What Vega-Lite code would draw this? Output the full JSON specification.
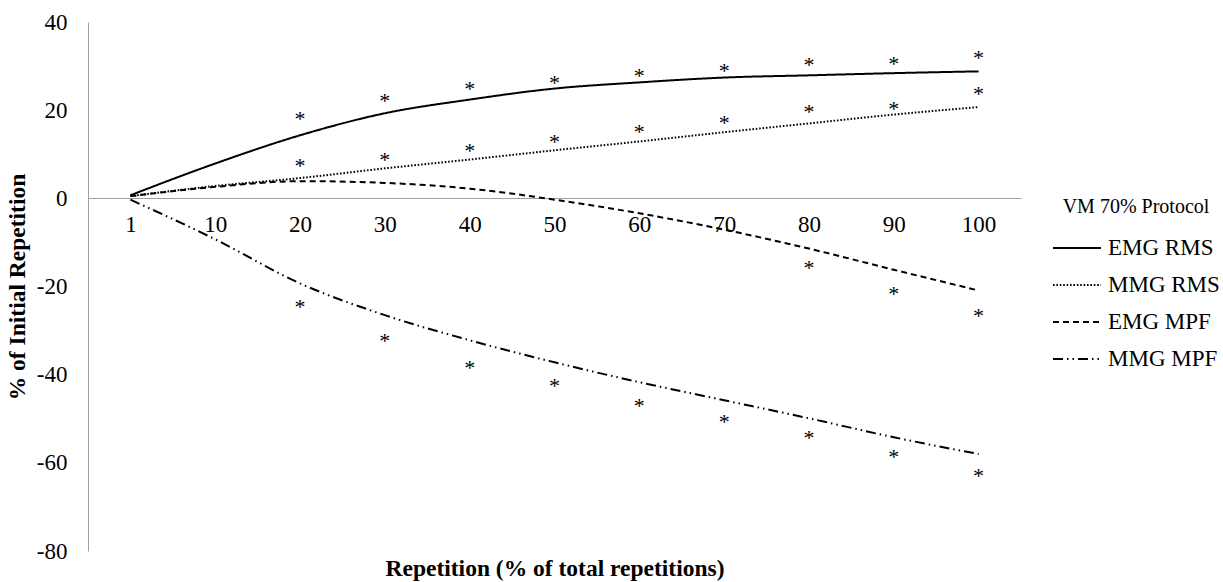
{
  "$schema": "https://vega.github.io/schema/vega-lite/v6.json",
  "width": 933,
  "height": 529,
  "autosize": {"type": "none"},
  "padding": {"left": 88, "top": 22, "right": 202, "bottom": 31},
  "background": "white",
  "config": {
    "view": {"stroke": null},
    "font": "Liberation Serif",
    "axis": {"labelFont": "Liberation Serif", "titleFont": "Liberation Serif", "labelColor": "black", "titleColor": "black"},
    "legend": {"labelFont": "Liberation Serif", "titleFont": "Liberation Serif"}
  },
  "datasets": {
    "trend": [
      {"rep": "1", "series": "EMG RMS", "value": 0.7},
      {"rep": "10", "series": "EMG RMS", "value": 7.9},
      {"rep": "20", "series": "EMG RMS", "value": 14.3},
      {"rep": "30", "series": "EMG RMS", "value": 19.3},
      {"rep": "40", "series": "EMG RMS", "value": 22.4},
      {"rep": "50", "series": "EMG RMS", "value": 24.9},
      {"rep": "60", "series": "EMG RMS", "value": 26.3},
      {"rep": "70", "series": "EMG RMS", "value": 27.4},
      {"rep": "80", "series": "EMG RMS", "value": 27.9},
      {"rep": "90", "series": "EMG RMS", "value": 28.4},
      {"rep": "100", "series": "EMG RMS", "value": 28.8},
      {"rep": "1", "series": "MMG RMS", "value": 0.5},
      {"rep": "10", "series": "MMG RMS", "value": 2.8},
      {"rep": "20", "series": "MMG RMS", "value": 4.6},
      {"rep": "30", "series": "MMG RMS", "value": 6.8},
      {"rep": "40", "series": "MMG RMS", "value": 8.8},
      {"rep": "50", "series": "MMG RMS", "value": 10.9},
      {"rep": "60", "series": "MMG RMS", "value": 12.9},
      {"rep": "70", "series": "MMG RMS", "value": 15.0},
      {"rep": "80", "series": "MMG RMS", "value": 17.0},
      {"rep": "90", "series": "MMG RMS", "value": 19.0},
      {"rep": "100", "series": "MMG RMS", "value": 20.7},
      {"rep": "1", "series": "EMG MPF", "value": 0.5},
      {"rep": "10", "series": "EMG MPF", "value": 2.6},
      {"rep": "20", "series": "EMG MPF", "value": 3.9},
      {"rep": "30", "series": "EMG MPF", "value": 3.5},
      {"rep": "40", "series": "EMG MPF", "value": 2.2},
      {"rep": "50", "series": "EMG MPF", "value": -0.3},
      {"rep": "60", "series": "EMG MPF", "value": -3.4},
      {"rep": "70", "series": "EMG MPF", "value": -7.1},
      {"rep": "80", "series": "EMG MPF", "value": -11.4},
      {"rep": "90", "series": "EMG MPF", "value": -16.2},
      {"rep": "100", "series": "EMG MPF", "value": -20.9},
      {"rep": "1", "series": "MMG MPF", "value": -0.3},
      {"rep": "10", "series": "MMG MPF", "value": -9.3},
      {"rep": "20", "series": "MMG MPF", "value": -19.3},
      {"rep": "30", "series": "MMG MPF", "value": -26.5},
      {"rep": "40", "series": "MMG MPF", "value": -32.2},
      {"rep": "50", "series": "MMG MPF", "value": -37.2},
      {"rep": "60", "series": "MMG MPF", "value": -41.7},
      {"rep": "70", "series": "MMG MPF", "value": -45.8},
      {"rep": "80", "series": "MMG MPF", "value": -49.9},
      {"rep": "90", "series": "MMG MPF", "value": -54.2},
      {"rep": "100", "series": "MMG MPF", "value": -58.0}
    ],
    "stars": [
      {"rep": "20", "series": "EMG RMS", "value": 18.8},
      {"rep": "30", "series": "EMG RMS", "value": 23.0},
      {"rep": "40", "series": "EMG RMS", "value": 25.6},
      {"rep": "50", "series": "EMG RMS", "value": 27.1},
      {"rep": "60", "series": "EMG RMS", "value": 28.6},
      {"rep": "70", "series": "EMG RMS", "value": 29.9},
      {"rep": "80", "series": "EMG RMS", "value": 31.1},
      {"rep": "90", "series": "EMG RMS", "value": 31.3},
      {"rep": "100", "series": "EMG RMS", "value": 32.8},
      {"rep": "20", "series": "MMG RMS", "value": 8.2},
      {"rep": "30", "series": "MMG RMS", "value": 9.6},
      {"rep": "40", "series": "MMG RMS", "value": 11.6},
      {"rep": "50", "series": "MMG RMS", "value": 13.7},
      {"rep": "60", "series": "MMG RMS", "value": 15.9},
      {"rep": "70", "series": "MMG RMS", "value": 18.1},
      {"rep": "80", "series": "MMG RMS", "value": 20.5},
      {"rep": "90", "series": "MMG RMS", "value": 21.1},
      {"rep": "100", "series": "MMG RMS", "value": 24.5},
      {"rep": "80", "series": "EMG MPF", "value": -14.8},
      {"rep": "90", "series": "EMG MPF", "value": -20.9},
      {"rep": "100", "series": "EMG MPF", "value": -25.8},
      {"rep": "20", "series": "MMG MPF", "value": -23.7},
      {"rep": "30", "series": "MMG MPF", "value": -31.4},
      {"rep": "40", "series": "MMG MPF", "value": -37.6},
      {"rep": "50", "series": "MMG MPF", "value": -41.7},
      {"rep": "60", "series": "MMG MPF", "value": -46.3},
      {"rep": "70", "series": "MMG MPF", "value": -49.9},
      {"rep": "80", "series": "MMG MPF", "value": -53.5},
      {"rep": "90", "series": "MMG MPF", "value": -57.8},
      {"rep": "100", "series": "MMG MPF", "value": -62.1}
    ]
  },
  "encoding": {
    "x": {
      "field": "rep",
      "type": "ordinal",
      "sort": ["1", "10", "20", "30", "40", "50", "60", "70", "80", "90", "100"],
      "scale": {"type": "point", "padding": 0.5},
      "axis": {
        "orient": "bottom",
        "offset": -353,
        "labelAngle": 0,
        "labelFont": "Liberation Serif",
        "labelFontSize": 23,
        "labelPadding": 15,
        "ticks": false,
        "grid": false,
        "domainColor": "#a0a0a0",
        "domainWidth": 1,
        "title": "Repetition (% of total repetitions)",
        "titleFont": "Liberation Serif",
        "titleFontSize": 23.5,
        "titleFontWeight": "bold",
        "titleBaseline": "middle",
        "titleY": 370
      }
    },
    "y": {
      "field": "value",
      "type": "quantitative",
      "scale": {"domain": [-80, 40], "nice": false, "zero": false},
      "axis": {
        "values": [-80, -60, -40, -20, 0, 20, 40],
        "labelExpr": "toString(datum.value)",
        "labelFont": "Liberation Serif",
        "labelFontSize": 23,
        "labelPadding": 21,
        "ticks": false,
        "grid": false,
        "domainColor": "#a0a0a0",
        "domainWidth": 1,
        "title": "% of Initial Repetition",
        "titleFont": "Liberation Serif",
        "titleFontSize": 23.5,
        "titleFontWeight": "bold",
        "titlePadding": 7
      }
    }
  },
  "layer": [
    {
      "data": {"name": "trend"},
      "mark": {"type": "line", "interpolate": "monotone", "strokeWidth": 2, "color": "black"},
      "encoding": {
        "strokeDash": {
          "field": "series",
          "type": "nominal",
          "scale": {
            "domain": ["EMG RMS", "MMG RMS", "EMG MPF", "MMG MPF"],
            "range": [[1, 0], [1.6, 1.8], [6, 4], [10, 4, 1.5, 4, 1.5, 4]]
          },
          "legend": {
            "title": "VM 70% Protocol",
            "orient": "none",
            "legendX": 964,
            "legendY": 175,
            "titleFont": "Liberation Serif",
            "titleFontSize": 20,
            "titleFontWeight": "normal",
            "titleColor": "black",
            "titleAnchor": "middle",
            "titlePadding": 6,
            "labelFont": "Liberation Serif",
            "labelFontSize": 23,
            "labelColor": "black",
            "labelOffset": 6,
            "symbolType": "stroke",
            "symbolSize": 2304,
            "symbolStrokeWidth": 2,
            "symbolStrokeColor": "black",
            "rowPadding": -10
          }
        }
      }
    },
    {
      "data": {"name": "stars"},
      "mark": {"type": "text", "text": "*", "fontSize": 22, "font": "Liberation Serif", "color": "black", "baseline": "alphabetic", "dy": 11},
      "encoding": {}
    }
  ]
}
